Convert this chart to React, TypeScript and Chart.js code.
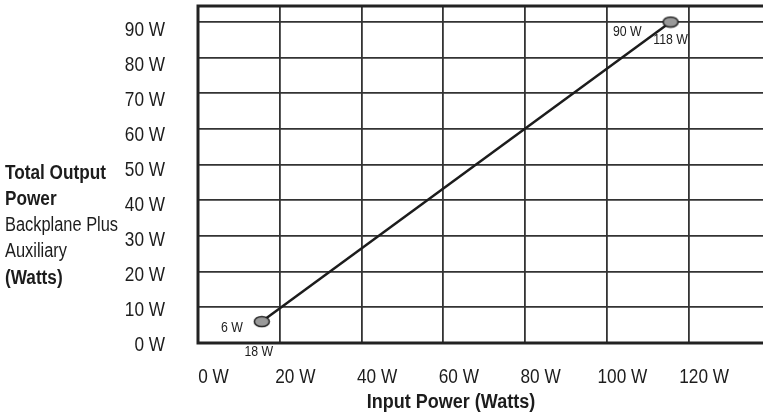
import React, { useEffect, useRef } from 'react';
import { Chart, registerables } from 'chart.js';

Chart.register(...registerables);

// ---- data ----
const inputPower = [18, 118];
const outputPower = [6, 90];
const pointInputLabels = ['18 W', '118 W'];
const pointOutputLabels = ['6 W', '90 W'];
const xTickStep = 20;
const yTickStep = 10;
const unitSuffix = ' W';
const yTitleLines = [
  { text: 'Total Output', bold: true },
  { text: 'Power', bold: true },
  { text: 'Backplane Plus', bold: false },
  { text: 'Auxiliary', bold: false },
  { text: '(Watts)', bold: true },
];
const xTitle = 'Input Power (Watts)';

const FONT = "'Liberation Sans', Arial, sans-serif";
const INK = '#1c1c1c';
const GRID = '#333333';

function makeEllipse(): HTMLCanvasElement {
  const c = document.createElement('canvas');
  c.width = 18;
  c.height = 13;
  const g = c.getContext('2d')!;
  g.beginPath();
  g.ellipse(9, 6.5, 7.5, 5, 0, 0, Math.PI * 2);
  g.fillStyle = '#9a9a9a';
  g.fill();
  g.lineWidth = 1.5;
  g.strokeStyle = '#222';
  g.stroke();
  return c;
}

// draw horizontally condensed text (mimics a narrow typeface)
function narrowText(ctx: CanvasRenderingContext2D, text: string, x: number, y: number, align: CanvasTextAlign, font: string, sx: number) {
  ctx.save();
  ctx.font = font;
  ctx.textAlign = align;
  ctx.textBaseline = 'middle';
  ctx.scale(sx, 1);
  ctx.fillText(text, x / sx, y);
  ctx.restore();
}

const decorPlugin = {
  id: 'decor',
  afterDraw(chart: any) {
    const { ctx, chartArea: ca } = chart;
    const xs = chart.scales.x;
    const ys = chart.scales.y;
    const xl = chart.scales.x2;
    const yl = chart.scales.y2;
    ctx.save();
    ctx.fillStyle = INK;

    // tick labels (positions from the label scales)
    const tickFont = `21px ${FONT}`;
    yl.ticks.forEach((t: any) => {
      narrowText(ctx, `${t.value}${unitSuffix}`, 165, yl.getPixelForValue(t.value) + 2, 'right', tickFont, 0.82);
    });
    xl.ticks.forEach((t: any) => {
      narrowText(ctx, `${t.value}${unitSuffix}`, xl.getPixelForValue(t.value), 377, 'center', tickFont, 0.82);
    });

    // left title
    yTitleLines.forEach((ln, i) => {
      narrowText(ctx, ln.text, 5, 173 + i * 26.3, 'left', `${ln.bold ? 'bold ' : ''}20px ${FONT}`, ln.bold ? 0.86 : 0.82);
    });

    // x title
    narrowText(ctx, xTitle, 451, 402, 'center', `bold 20px ${FONT}`, 0.9);

    // point annotations
    const annFont = `15px ${FONT}`;
    const offsets = [
      { out: [-19, 6], inp: [-3, 30] },
      { out: [-29, 10], inp: [0, 18] },
    ];
    inputPower.forEach((xv, i) => {
      const px = xs.getPixelForValue(xv);
      const py = ys.getPixelForValue(outputPower[i]);
      const o = offsets[i];
      narrowText(ctx, pointOutputLabels[i], px + o.out[0], py + o.out[1], 'right', annFont, 0.82);
      narrowText(ctx, pointInputLabels[i], px + o.inp[0], py + o.inp[1], 'center', annFont, 0.82);
    });

    // frame (top, left, bottom)
    ctx.strokeStyle = '#222';
    ctx.lineWidth = 3;
    ctx.beginPath();
    ctx.moveTo(ca.right, ca.top);
    ctx.lineTo(ca.left, ca.top);
    ctx.lineTo(ca.left, ca.bottom);
    ctx.lineTo(ca.right, ca.bottom);
    ctx.stroke();
    ctx.restore();
  },
};

export default function App() {
  const ref = useRef<HTMLCanvasElement>(null);
  useEffect(() => {
    document.body.style.margin = '0';
    const canvas = ref.current!;
    const chart = new Chart(canvas, {
      type: 'scatter',
      data: {
        datasets: [
          {
            data: inputPower.map((x, i) => ({ x, y: outputPower[i] })),
            xAxisID: 'x',
            yAxisID: 'y',
            showLine: true,
            borderColor: INK,
            borderWidth: 2.5,
            pointStyle: makeEllipse() as any,
            pointRadius: 8,
            clip: false,
          },
        ],
      },
      options: {
        responsive: false,
        animation: false,
        events: [],
        layout: { autoPadding: false, padding: { top: 6, left: 198, right: 0, bottom: 71 } },
        plugins: { legend: { display: false }, tooltip: { enabled: false } },
        scales: {
          x: { type: 'linear', min: 2.4, max: 140.6, display: false },
          xg: {
            type: 'linear',
            position: 'bottom',
            min: 0,
            max: 138.2,
            ticks: { display: false, stepSize: xTickStep, includeBounds: false },
            grid: { drawTicks: false, color: GRID, lineWidth: 1.8 },
            border: { display: false },
          },
          x2: {
            type: 'linear',
            position: 'bottom',
            min: -3.8,
            max: 134.4,
            ticks: { display: false, stepSize: xTickStep, includeBounds: false },
            grid: { display: false, drawTicks: false },
            border: { display: false },
          },
          y: {
            type: 'linear',
            position: 'left',
            min: 0,
            max: 94.5,
            ticks: { display: false, stepSize: yTickStep, includeBounds: false },
            grid: { drawTicks: false, color: GRID, lineWidth: 1.8 },
            border: { display: false },
          },
          y2: {
            type: 'linear',
            position: 'left',
            min: 0,
            max: 96.3,
            ticks: { display: false, stepSize: yTickStep, includeBounds: false },
            grid: { display: false, drawTicks: false },
            border: { display: false },
          },
        },
      } as any,
      plugins: [decorPlugin],
    });
    return () => chart.destroy();
  }, []);
  return <canvas ref={ref} width={763} height={414} style={{ display: 'block' }} />;
}
